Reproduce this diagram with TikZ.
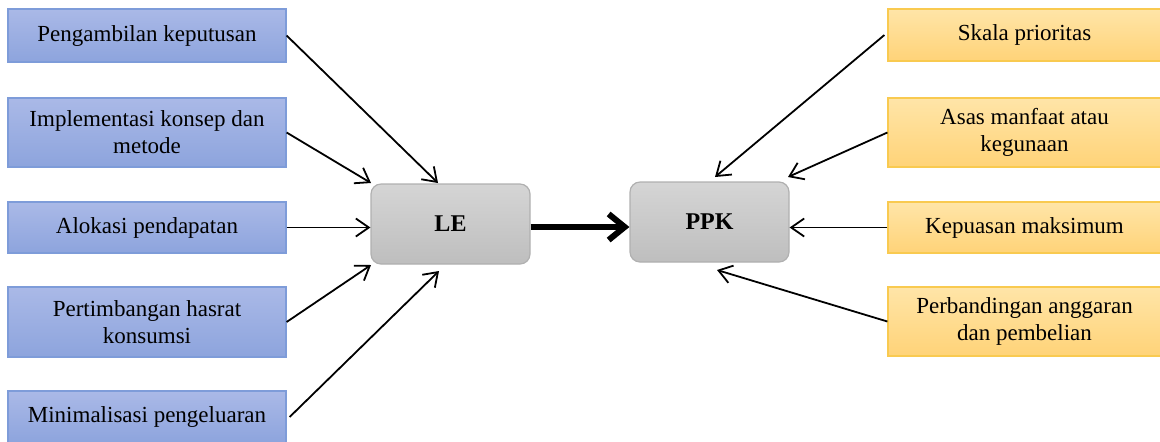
\documentclass[tikz,border=0pt]{standalone}
\usepackage{fontspec}
\setmainfont{Liberation Serif}
\usetikzlibrary{arrows.meta}

\definecolor{blueTop}{RGB}{170,185,231}
\definecolor{blueBot}{RGB}{141,164,221}
\definecolor{blueEdge}{RGB}{126,156,217}
\definecolor{oraTop}{RGB}{255,229,168}
\definecolor{oraBot}{RGB}{255,211,120}
\definecolor{oraEdge}{RGB}{249,202,80}
\definecolor{grayTop}{RGB}{213,213,213}
\definecolor{grayBot}{RGB}{190,190,190}
\definecolor{grayEdge}{RGB}{176,176,176}

\tikzset{
  factor/.style={rectangle, draw=blueEdge, line width=0.6pt,
    top color=blueTop, bottom color=blueBot,
    minimum width=139pt, inner sep=2pt, align=center,
    font=\fontsize{11.5}{13.5}\selectfont},
  aspect/.style={rectangle, draw=oraEdge, line width=0.6pt,
    top color=oraTop, bottom color=oraBot,
    minimum width=136.5pt, inner sep=2pt, align=center,
    font=\fontsize{11.5}{13.5}\selectfont},
  hub/.style={rectangle, rounded corners=5pt, draw=grayEdge, line width=0.6pt,
    top color=grayTop, bottom color=grayBot,
    minimum width=79.5pt, minimum height=40pt,
    font=\fontsize{12}{14}\selectfont\bfseries},
  feed/.style={draw=black, line width=0.9pt,
    -{Straight Barb[length=6.5pt, width=9pt]}},
  main/.style={draw=black, line width=3pt,
    -{Straight Barb[length=8pt, width=13pt]}}
}

\begin{document}
\begin{tikzpicture}[x=0.5pt, y=-0.5pt]
  \useasboundingbox (0,0) rectangle (1160,441);

  % central boxes
  \node[hub] (LE)  at (450.5,224) {LE};
  \node[hub] (PPK) at (709.5,222) {PPK};

  % left-hand factors
  \node[factor, minimum height=26.5pt] (L1) at (147,35.5)  {Pengambilan keputusan};
  \node[factor, minimum height=34.5pt] (L2) at (147,132.5) {Implementasi konsep dan\\metode};
  \node[factor, minimum height=25.5pt] (L3) at (147,227.5) {Alokasi pendapatan};
  \node[factor, minimum height=35pt]   (L4) at (147,322)   {Pertimbangan hasrat\\konsumsi};
  \node[factor, minimum height=26pt]   (L5) at (147,417)   {Minimalisasi pengeluaran};

  % right-hand aspects
  \node[aspect, minimum height=26pt]   (R1) at (1024.5,35)    {Skala prioritas};
  \node[aspect, minimum height=34.5pt] (R2) at (1024.5,132.5) {Asas manfaat atau\\kegunaan};
  \node[aspect, minimum height=25.5pt] (R3) at (1024.5,227.5) {Kepuasan maksimum};
  \node[aspect, minimum height=34.5pt] (R4) at (1024.5,321.5) {Perbandingan anggaran\\dan pembelian};

  % arrow targets around the central boxes
  \coordinate (le1) at (438,183);
  \coordinate (le2) at (371,183);
  \coordinate (le4) at (371,265);
  \coordinate (le5) at (439,271);
  \coordinate (pp1) at (715,177);
  \coordinate (pp2) at (788,177);
  \coordinate (pp4) at (717,270);

  % connectors into LE
  \draw[feed] (L1.east) -- (le1);
  \draw[feed] (L2.east) -- (le2);
  \draw[feed] (L3.east) -- (L3.east -| LE.west);
  \draw[feed] (L4.east) -- (le4);
  \draw[feed] ([xshift=1.5pt]L5.east) -- (le5);

  % connectors into PPK
  \draw[feed] ([xshift=-1.5pt]R1.west) -- (pp1);
  \draw[feed] (R2.west) -- (pp2);
  \draw[feed] (R3.west) -- (R3.west -| PPK.east);
  \draw[feed] (R4.west) -- (pp4);

  % LE to PPK
  \draw[main] (LE.east |- 0,227) -- (PPK.west |- 0,227);
\end{tikzpicture}
\end{document}
